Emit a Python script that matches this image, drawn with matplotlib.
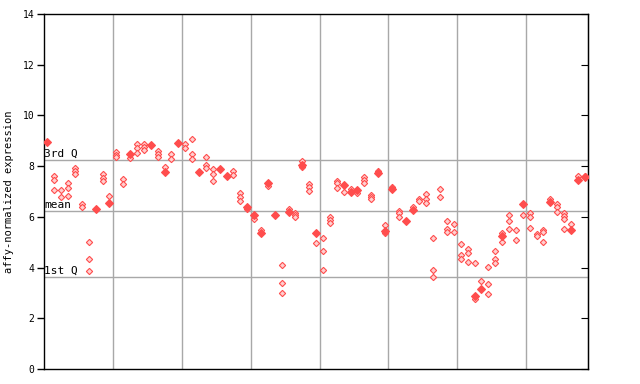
import matplotlib
matplotlib.use("Agg")
import matplotlib.pyplot as plt

# per-sample replicate values (samples 1..79)
hollow = [
    [], [7.62, 7.45, 7.05], [7.05, 6.78], [7.33, 7.12, 6.82], [7.92, 7.80, 7.68],
    [6.52, 6.38], [5.0, 4.33, 3.85], [], [7.68, 7.55, 7.43], [6.81],
    [8.55, 8.45, 8.38], [7.5, 7.3], [8.32], [8.88, 8.72, 8.53], [8.88, 8.75, 8.65],
    [], [8.58, 8.47, 8.37], [7.95], [8.49, 8.27], [],
    [8.87, 8.72], [9.06, 8.48, 8.27], [], [8.35, 8.06, 7.91], [7.87, 7.68, 7.43],
    [], [], [7.82, 7.64], [6.93, 6.77, 6.64], [6.3],
    [5.91], [5.48], [7.22], [], [4.09, 3.38, 2.99],
    [6.32], [6.14, 6.06, 5.98], [8.22, 7.95], [7.29, 7.16, 7.03], [4.96],
    [5.17, 4.64, 3.9], [6.0, 5.87, 5.77], [7.43, 7.32, 7.13], [6.97], [7.1],
    [6.95], [7.58, 7.45, 7.32], [6.88, 6.77, 6.69], [7.82], [5.67, 5.35],
    [7.18], [6.24, 6.14, 6.0], [], [6.4], [6.72, 6.61],
    [6.9, 6.72, 6.53], [5.15, 3.9, 3.62], [7.08, 6.77], [5.82, 5.52, 5.39], [5.72, 5.39],
    [4.92, 4.48, 4.33], [4.72, 4.59, 4.21], [4.17, 2.77], [3.46], [4.03, 3.34, 2.95],
    [4.65, 4.33, 4.17], [5.35, 5.0], [6.07, 5.85, 5.51], [5.47, 5.07], [6.07],
    [6.14, 5.98, 5.55], [5.32, 5.24], [5.48, 5.4, 5.0], [6.69], [6.49, 6.38, 6.19],
    [6.14, 6.03, 5.93, 5.51], [5.72], [7.63], [7.63],
]
filled = [
    [8.94], [], [], [], [],
    [], [], [6.31], [], [6.56],
    [], [], [8.47], [], [],
    [8.82], [], [7.77], [], [8.9],
    [], [], [7.77], [], [],
    [7.9], [7.61], [], [], [6.38],
    [6.08], [5.38], [7.35], [6.08], [],
    [6.19], [], [8.05], [], [5.38],
    [], [], [], [7.25], [6.99],
    [7.06], [], [], [7.74], [5.43],
    [7.08], [], [5.84], [6.27], [],
    [], [], [], [], [],
    [], [], [2.88], [3.17], [],
    [], [5.24], [], [], [6.49],
    [], [], [], [6.58], [],
    [], [5.48], [7.45], [7.56],
]

q1, q_mean, q3 = 3.63, 6.23, 8.23
red = "#ff4d4d"
grid_col = "#a8a8a8"

fig = plt.figure(figsize=(6.4, 3.84), dpi=100)
ax = fig.add_axes([0.0688, 0.039, 0.8502, 0.9245])

n = len(hollow)
hx = [i + 1 for i, vals in enumerate(hollow) for _ in vals]
hy = [v for vals in hollow for v in vals]
fx = [i + 1 for i, vals in enumerate(filled) for _ in vals]
fy = [v for vals in filled for v in vals]

# vertical separators every 10 samples, quartile lines
for g in range(10, n, 10):
    ax.axvline(g + 0.5, color=grid_col, lw=1, zorder=1)
for q in (q1, q_mean, q3):
    ax.axhline(q, color=grid_col, lw=1, zorder=1)

ax.plot(hx, hy, ls="none", marker="D", ms=3.2, mfc="#ffd0d0", mec=red, mew=0.8, zorder=3)
ax.plot(fx, fy, ls="none", marker="D", ms=3.8, mfc=red, mec=red, mew=0.8, zorder=4)

ax.set_xlim(0.5, n + 0.5)
ax.set_ylim(0, 14)
ax.set_xticks([])
ax.set_yticks(range(0, 15, 2))
ax.tick_params(axis="y", which="both", direction="out", length=5, width=1,
               labelsize=7, right=False, pad=2)
for lab in ax.get_yticklabels():
    lab.set_family("DejaVu Sans Mono")
# right side ticks point inward
sec = ax.secondary_yaxis("right")
sec.set_yticks(range(0, 15, 2))
sec.tick_params(direction="in", length=5, labelright=False)

for s in ax.spines.values():
    s.set_linewidth(1)
    s.set_color("black")

for q, name in ((q3, "3rd Q"), (q_mean, "mean"), (q1, "1st Q")):
    ax.text(0.55, q + 0.05, name, fontsize=8, family="DejaVu Sans Mono",
            va="bottom", ha="left", zorder=5)

ax.set_ylabel("affy-normalized expression", fontsize=7.5, family="DejaVu Sans Mono",
              labelpad=6)

fig.savefig("out.png", dpi=100)
